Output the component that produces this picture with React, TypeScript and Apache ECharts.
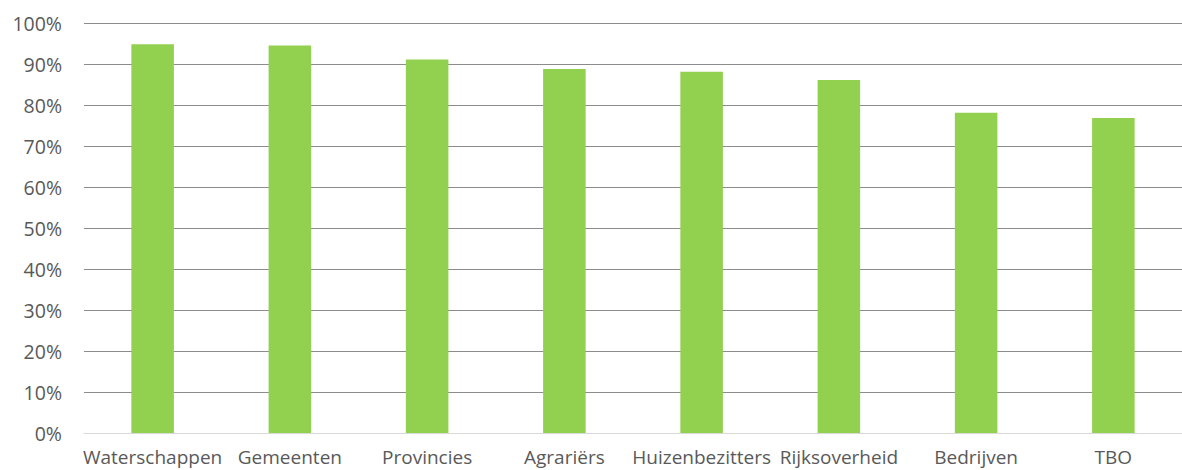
import React, { useEffect, useRef } from "react";
import * as echarts from "echarts";

const categories = [
  "Waterschappen",
  "Gemeenten",
  "Provincies",
  "Agrariërs",
  "Huizenbezitters",
  "Rijksoverheid",
  "Bedrijven",
  "TBO",
];
const values = [94.8, 94.5, 91.1, 88.8, 88.1, 86.1, 78.1, 76.8];

export default function App() {
  const ref = useRef<HTMLDivElement>(null);
  useEffect(() => {
    if (!ref.current) return;
    const chart = echarts.init(ref.current, null, { renderer: "svg" });
    chart.setOption({
      animation: false,
      grid: { left: 84, right: -4, top: 23, bottom: 37, containLabel: false },
      xAxis: {
        type: "category",
        data: categories,
        axisLine: { show: true, lineStyle: { color: "#d9d9d9", width: 1 } },
        axisTick: { show: false },
        axisLabel: {
          color: "#595959",
          fontFamily: "Open Sans",
          fontSize: 19,
          margin: 14,
          interval: 0,
        },
      },
      yAxis: {
        type: "value",
        min: 0,
        max: 100,
        interval: 10,
        axisLine: { show: false },
        axisTick: { show: false },
        splitLine: { lineStyle: { color: "#8c8c8c", width: 1 } },
        axisLabel: {
          color: "#595959",
          fontFamily: "Open Sans",
          fontSize: 19.5,
          margin: 22,
          formatter: "{value}%",
        },
      },
      series: [
        {
          type: "bar",
          data: values,
          barWidth: "31%",
          itemStyle: { color: "#92D050" },
        },
      ],
    });
    return () => chart.dispose();
  }, []);
  return (
    <div
      ref={ref}
      style={{ position: "fixed", left: 0, top: 0, width: 1182, height: 470, background: "#fff" }}
    />
  );
}
